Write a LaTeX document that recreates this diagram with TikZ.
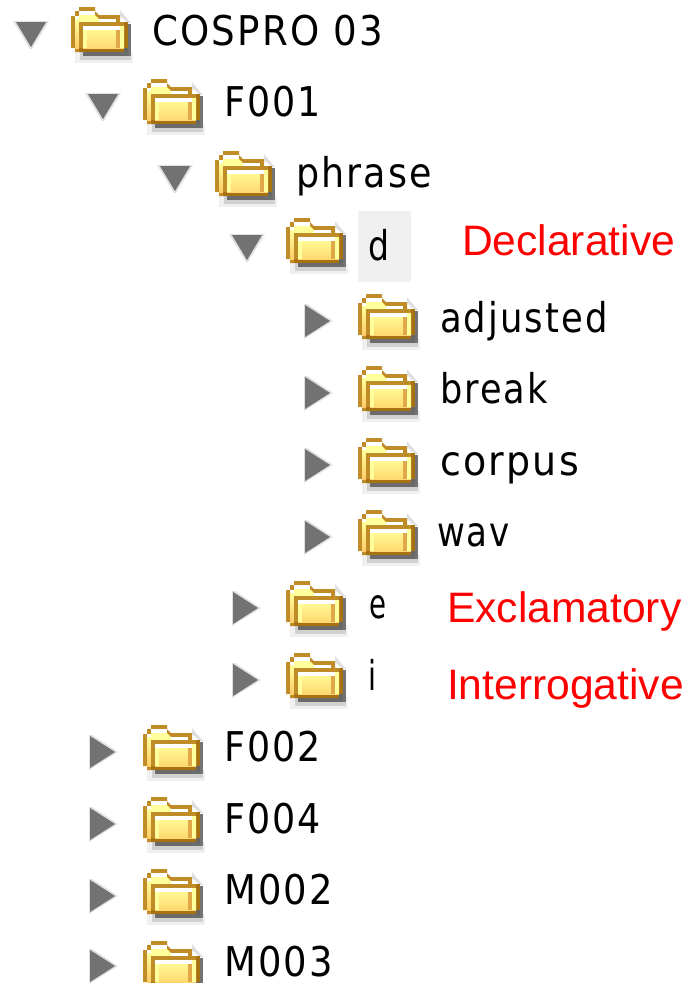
\documentclass[tikz,border=0pt]{standalone}
\usepackage{fontspec}
\usepackage{graphicx}
\setmainfont{Liberation Sans}
\newfontfamily\pixfont[LetterSpace=6]{DejaVu Sans}
\usetikzlibrary{calc}
\definecolor{goldA}{HTML}{C08C28}
\definecolor{goldB}{HTML}{A87212}
\definecolor{arrowgray}{HTML}{727272}
\definecolor{paleY}{HTML}{FFFF9C}
\definecolor{midY}{HTML}{FFEE88}
\definecolor{deepY}{HTML}{FFD870}
\definecolor{sideO}{HTML}{FFCC66}
\definecolor{colO}{HTML}{E0A848}
\tikzset{
  x=1pt,y=-1pt,
  lab/.style={anchor=base west,inner sep=0pt,outer sep=0pt,font=\pixfont\fontsize{41}{41}\selectfont,text=black},
  redlab/.style={anchor=base west,inner sep=0pt,outer sep=0pt,font=\fontsize{42.6}{42.6}\selectfont,text=red},
  folder/.pic={
    % soft shadow
    \fill[black!6] (4,45) rectangle (62,56);
    \fill[black!18] (9,45) rectangle (60,53);
    \fill[black!58] (12,45) rectangle (57,49);
    \fill[black!55] (57,17) rectangle (60,49);
    \fill[black!12] (49,3) -- (53,8) -- (60,16) -- (57,16) -- (49,9) -- cycle;
    % back panel
    \fill[goldA] (0,9) -- (4,9) -- (4,4) -- (8,4) -- (8,0) -- (24,0) -- (24,4) -- (28,8) -- (49,8) -- (49,16) -- (12,45) -- (4,45) -- (4,41) -- (0,41) -- cycle;
    \fill[white] (8,4) rectangle (24,8);
    \fill[white] (4,9) rectangle (8,12);
    \fill[white] (28,12) rectangle (45,16);
    \fill[paleY] (8,8) -- (24,8) -- (28,12) -- (28,16) -- (8,16) -- cycle;
    \fill[top color=paleY,bottom color=sideO] (4,12) rectangle (8,41);
    % front panel
    \fill[goldA] (8,15) rectangle (57,45);
    \fill[goldB] (8,41) rectangle (57,45);
    \fill[goldB] (53,15) rectangle (57,45);
    \fill[black!60] (53,41) rectangle (57,45);
    \fill[top color=paleY,bottom color=deepY] (12,19) rectangle (53,41);
    \fill[white] (12,19) rectangle (53,23);
    \fill[paleY] (12,23) rectangle (16,41);
    \fill[colO] (45,23) rectangle (49,41);
    \fill[paleY] (49,19) rectangle (53,41);
  },
  downtri/.pic={
    \fill[black!12] (-1,-1) -- (35,-1) -- (18,27) -- (16,27) -- cycle;
    \fill[arrowgray] (2,0) -- (32,0) -- (17,25) -- cycle;
  },
  righttri/.pic={
    \fill[black!12] (-1,-1) -- (2,-1) -- (28,16) -- (-1,34) -- cycle;
    \fill[arrowgray] (0,0) -- (25,16) -- (0,32) -- cycle;
  }
}
\newcommand{\lbl}[5]{\node[lab] (#1) at (#2,#3) {\resizebox{#4pt}{\height}{#5}};}
\begin{document}
\begin{tikzpicture}
\useasboundingbox (0,0) rectangle (688,983);
\fill[white] (0,0) rectangle (688,983);
\fill[black!6] (358,211) rectangle (411,282);

\pic at (14,22) {downtri};   \pic at (71,7) {folder};
\pic at (86,94) {downtri};   \pic at (143,79) {folder};
\pic at (158,166) {downtri}; \pic at (215,151) {folder};
\pic at (230,235) {downtri}; \pic at (286,218) {folder};
\pic at (305,305) {righttri}; \pic at (358,294) {folder};
\pic at (305,377) {righttri}; \pic at (358,366) {folder};
\pic at (305,449) {righttri}; \pic at (358,438) {folder};
\pic at (305,521) {righttri}; \pic at (358,510) {folder};
\pic at (233,592) {righttri}; \pic at (286,581) {folder};
\pic at (233,664) {righttri}; \pic at (286,653) {folder};
\pic at (90,736) {righttri}; \pic at (143,725) {folder};
\pic at (90,808) {righttri}; \pic at (143,797) {folder};
\pic at (90,880) {righttri}; \pic at (143,869) {folder};
\pic at (90,950) {righttri}; \pic at (143,941) {folder};

\lbl{root}{152}{45}{231}{COSPRO 03}
\lbl{f1}{224}{116}{97}{F001}
\lbl{phrase}{296}{187}{136}{phrase}
\lbl{d}{368}{260}{21}{d}
\lbl{adj}{440}{332}{168}{adjusted}
\lbl{brk}{440}{403}{108}{break}
\lbl{corpus}{440}{475}{139}{corpus}
\lbl{wav}{437}{546}{73}{wav}
\lbl{e}{369}{618}{17}{e}
\lbl{i}{368}{690}{8}{i}
\lbl{f2}{224}{761}{97}{F002}
\lbl{f4}{224}{833}{97}{F004}
\lbl{m2}{224}{904}{109}{M002}
\lbl{m3}{224}{976}{109}{M003}

\node[redlab] (decl) at (462,255) {Declarative};
\node[redlab] (excl) at (447,622) {Exclamatory};
\node[redlab] (intr) at (447,699) {Interrogative};
\end{tikzpicture}
\end{document}
